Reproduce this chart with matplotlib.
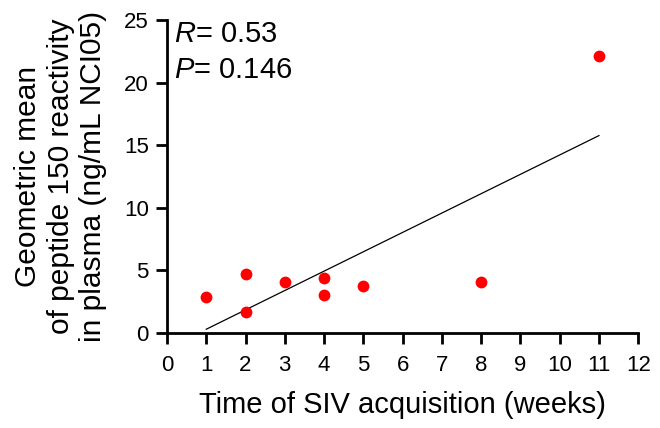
import numpy as np
import matplotlib
matplotlib.use("Agg")
import matplotlib.pyplot as plt

plt.rcParams['font.family'] = ['Liberation Sans', 'DejaVu Sans']
plt.rcParams['mathtext.fontset'] = 'custom'
plt.rcParams['mathtext.rm'] = 'Liberation Sans'
plt.rcParams['mathtext.it'] = 'Liberation Sans:italic'

# weeks to SIV acquisition vs geometric mean reactivity
weeks = np.array([1, 2, 2, 3, 4, 4, 5, 8, 11])
reactivity = np.array([2.84, 4.71, 1.68, 4.07, 4.36, 3.0, 3.78, 4.07, 22.15])
r_text = "0.53"
p_text = "0.146"

fig = plt.figure(figsize=(6.6, 4.28), dpi=100)
ax = fig.add_axes([0.253, 0.222, 0.714, 0.731])

# linear fit
slope, icpt = np.polyfit(weeks, reactivity, 1)
xf = np.array([weeks.min(), weeks.max()])
ax.plot(xf, slope * xf + icpt, color='black', lw=0.9, zorder=2)

ax.plot(weeks, reactivity, 'o', color='#ff0000', ms=8.5, mec='none', zorder=3, clip_on=False)

ax.set_xlim(0, 12)
ax.set_ylim(0, 25)
ax.set_xticks(range(0, 13))
ax.set_yticks(range(0, 26, 5))
ax.spines['top'].set_visible(False)
ax.spines['right'].set_visible(False)
for s in ['left', 'bottom']:
    ax.spines[s].set_linewidth(2)
ax.tick_params(width=2, length=8, labelsize=16, colors='black')
ax.tick_params(axis='x', pad=8)
ax.tick_params(axis='y', pad=5)

ax.set_xlabel("Time of SIV acquisition (weeks)", fontsize=21, labelpad=11)
ax.set_ylabel("Geometric mean\nof peptide 150 reactivity\nin plasma (ng/mL NCI05)",
              fontsize=21.5, labelpad=12, linespacing=1.22)

ax.text(0.015, 1.0, "$R$= " + r_text, transform=ax.transAxes, fontsize=21, va='top')
ax.text(0.015, 0.885, "$P$= " + p_text, transform=ax.transAxes, fontsize=21, va='top')

fig.savefig("out.png", dpi=100)
